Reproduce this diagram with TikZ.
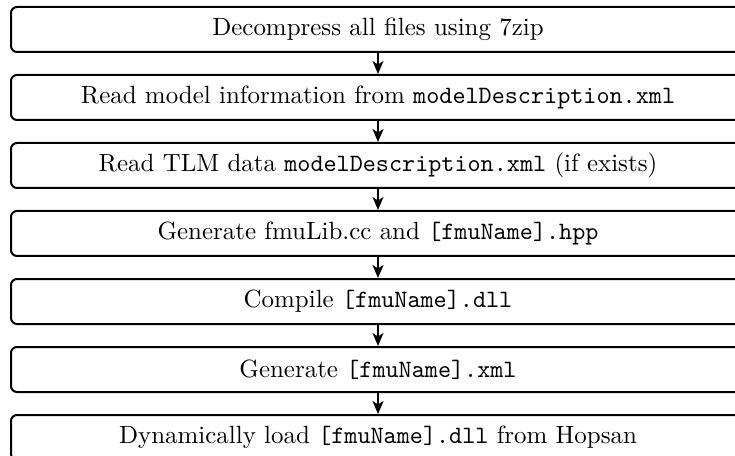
\documentclass[tikz,border=0pt]{standalone}
\usetikzlibrary{arrows.meta}
\def\u{0.401}
\tikzset{
  stepbox/.style={draw, line width=2*\u pt, rounded corners=6*\u pt, minimum width=734*\u pt, minimum height=45*\u pt, inner sep=0pt, anchor=center},
  flow/.style={-{Stealth[length=13*\u pt, width=11*\u pt, inset=3.5*\u pt]}, line width=2*\u pt}
}
\begin{document}
\begin{tikzpicture}[x=\u pt,y=-\u pt]
\useasboundingbox (0,0) rectangle (735,456);
\node[stepbox] (b1) at (378,29.5) {Decompress all files using 7zip};
\node[stepbox] (b2) at (378,97.5) {Read model information from \texttt{modelDescription.xml}};
\node[stepbox] (b3) at (378,165.5) {Read TLM data \texttt{modelDescription.xml} (if exists)};
\node[stepbox] (b4) at (378,233.5) {Generate fmuLib.cc and \texttt{[fmuName].hpp}};
\node[stepbox] (b5) at (378,301.5) {Compile \texttt{[fmuName].dll}};
\node[stepbox] (b6) at (378,369.5) {Generate \texttt{[fmuName].xml}};
\node[stepbox] (b7) at (378,437.5) {Dynamically load \texttt{[fmuName].dll} from Hopsan};
\foreach \a/\b in {b1/b2,b2/b3,b3/b4,b4/b5,b5/b6,b6/b7}
  \draw[flow] (\a.south) -- (\b.north);
\end{tikzpicture}
\end{document}
